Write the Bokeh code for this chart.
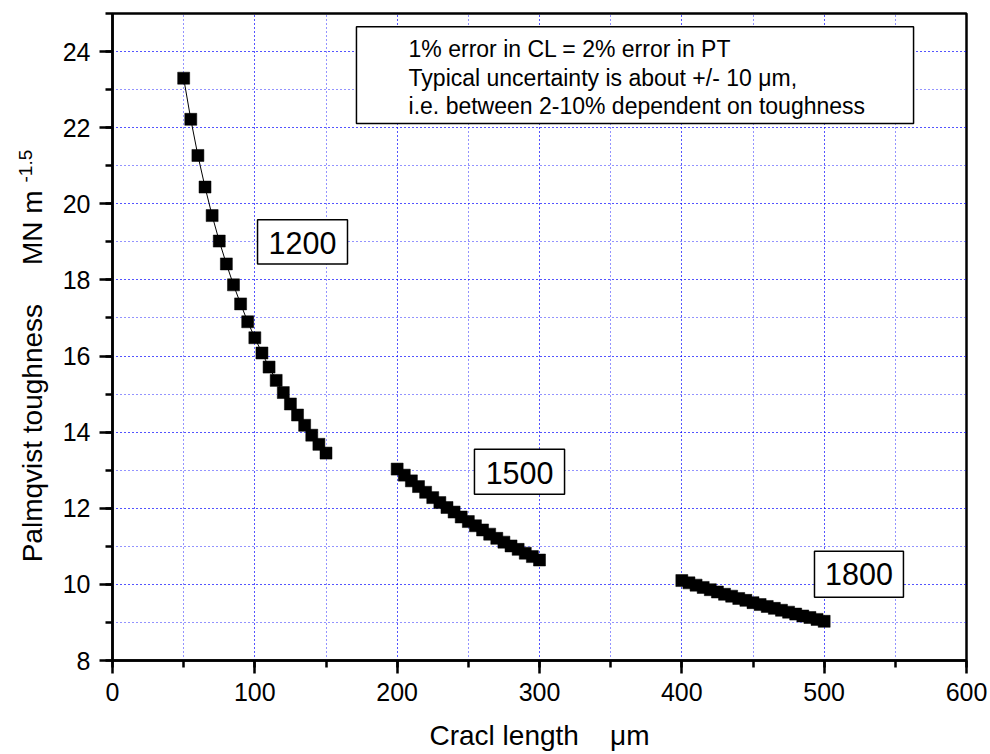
from math import pi
from bokeh.plotting import figure
from bokeh.models import Range1d, SingleIntervalTicker, Label, BoxAnnotation, ColumnDataSource
from bokeh.embed import file_html
from bokeh.resources import INLINE

# ---- data ----
crack_1200 = [50, 55, 60, 65, 70, 75, 80, 85, 90, 95, 100,
              105, 110, 115, 120, 125, 130, 135, 140, 145, 150]
pt_1200 = [23.30, 22.22, 21.27, 20.44, 19.69, 19.02, 18.42, 17.87, 17.37, 16.90, 16.48,
           16.08, 15.71, 15.36, 15.04, 14.74, 14.45, 14.18, 13.92, 13.68, 13.45]

crack_1500 = [200, 205, 210, 215, 220, 225, 230, 235, 240, 245, 250,
              255, 260, 265, 270, 275, 280, 285, 290, 295, 300]
pt_1500 = [13.03, 12.87, 12.72, 12.57, 12.42, 12.28, 12.15, 12.02, 11.90, 11.77, 11.65,
           11.54, 11.43, 11.32, 11.21, 11.11, 11.01, 10.92, 10.82, 10.73, 10.64]

crack_1800 = [400, 405, 410, 415, 420, 425, 430, 435, 440, 445, 450,
              455, 460, 465, 470, 475, 480, 485, 490, 495, 500]
pt_1800 = [10.10, 10.04, 9.98, 9.92, 9.86, 9.80, 9.74, 9.69, 9.63, 9.58, 9.52,
           9.47, 9.42, 9.37, 9.32, 9.27, 9.22, 9.17, 9.13, 9.08, 9.03]

series_names = ["1200", "1500", "1800"]
note_lines = ["1% error in CL = 2% error in PT",
              "Typical uncertainty is about +/- 10 \u03bcm,",
              "i.e. between 2-10% dependent on toughness"]
x_title = "Cracl length\u00a0\u00a0\u00a0\u00a0\u03bcm"
y_title = "Palmqvist toughness\u00a0\u00a0\u00a0\u00a0\u00a0MN m"
y_unit_sup = "-1.5"

FONT = "Liberation Sans"

p = figure(width=990, height=754, output_backend="svg", toolbar_location=None,
           x_range=Range1d(0, 600), y_range=Range1d(8, 25),
           min_border_left=112, min_border_right=24, min_border_top=13, min_border_bottom=94)
p.background_fill_color = "white"
p.border_fill_color = "white"
p.outline_line_color = "black"
p.outline_line_width = 2.5

p.xaxis.ticker = SingleIntervalTicker(interval=100, num_minor_ticks=2)
p.yaxis.ticker = SingleIntervalTicker(interval=2, num_minor_ticks=2)

for ax in (p.xaxis[0], p.yaxis[0]):
    ax.axis_line_color = "black"
    ax.axis_line_width = 2.5
    ax.major_tick_line_color = "black"
    ax.major_tick_line_width = 2.5
    ax.minor_tick_line_color = "black"
    ax.minor_tick_line_width = 2.5
    ax.major_tick_in = 0
    ax.major_tick_out = 13
    ax.minor_tick_in = 0
    ax.minor_tick_out = 7
    ax.major_label_text_font = FONT
    ax.major_label_text_font_size = "25px"
    ax.major_label_text_color = "black"
p.xaxis.major_label_standoff = 9
p.yaxis.major_label_standoff = 9

for g in (p.xgrid[0], p.ygrid[0]):
    g.grid_line_color = "#0000ff"
    g.grid_line_dash = "1 3"
    g.grid_line_width = 1
    g.grid_line_alpha = 0.85
    g.minor_grid_line_color = "#0000ff"
    g.minor_grid_line_dash = "1 3"
    g.minor_grid_line_width = 1
    g.minor_grid_line_alpha = 0.85

for xs, ys in ((crack_1200, pt_1200), (crack_1500, pt_1500), (crack_1800, pt_1800)):
    src = ColumnDataSource(dict(x=xs, y=ys))
    p.line("x", "y", source=src, line_color="black", line_width=1)
    p.scatter("x", "y", source=src, marker="square", size=12,
              fill_color="black", line_color="black", line_width=0.5)

# note box
p.add_layout(BoxAnnotation(left=171.4, right=562.8, top=24.65, bottom=22.11,
                           fill_color="white", fill_alpha=1.0,
                           line_color="black", line_alpha=1.0, line_width=1.5))
for txt, yy in zip(note_lines, [24.06, 23.31, 22.57]):
    p.add_layout(Label(x=208.0, y=yy, text=txt, text_font=FONT, text_font_size="23px",
                       text_color="black", text_align="left", text_baseline="alphabetic"))

# series labels with boxes
label_boxes = [(101.9, 165.1, 19.58, 18.42), (254.3, 317.6, 13.55, 12.37), (493.2, 555.7, 10.87, 9.66)]
label_pos = [(133.5, 18.96), (286.0, 12.93), (524.5, 10.28)]
for name, (l, r, t, b), (lx, ly) in zip(series_names, label_boxes, label_pos):
    p.add_layout(BoxAnnotation(left=l, right=r, top=t, bottom=b,
                               fill_color="white", fill_alpha=1.0,
                               line_color="black", line_alpha=1.0, line_width=1.5))
    p.add_layout(Label(x=lx, y=ly, text=name, text_font=FONT, text_font_size="30.5px",
                       text_color="black", text_align="center", text_baseline="alphabetic"))

# axis titles, placed in side panels (where they are not clipped to the frame)
p.add_layout(Label(x=222.7, y=6.03, text=x_title,
                   text_font=FONT, text_font_size="28px", text_color="black",
                   text_align="left", text_baseline="alphabetic"), "below")
p.add_layout(Label(x=-56.3, y=10.58, text=y_title,
                   angle=pi / 2, text_font=FONT, text_font_size="28px", text_color="black",
                   text_align="left", text_baseline="alphabetic"), "left")
p.add_layout(Label(x=-61.4, y=20.56, text=y_unit_sup,
                   angle=pi / 2, text_font=FONT, text_font_size="19px", text_color="black",
                   text_align="left", text_baseline="alphabetic"), "right")

open("out.html", "w").write(file_html(p, INLINE))
